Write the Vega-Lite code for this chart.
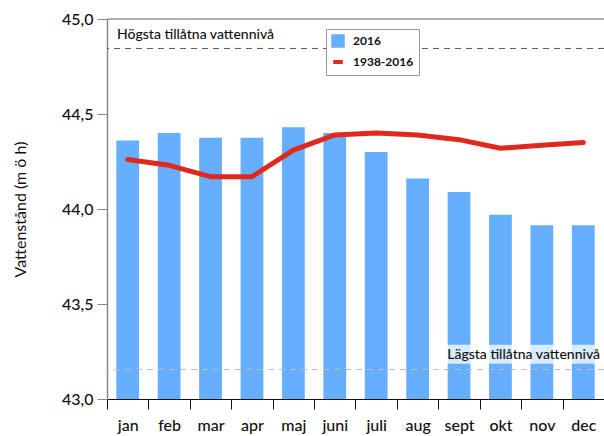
{
  "$schema": "https://vega.github.io/schema/vega-lite/v6.json",
  "width": 497,
  "height": 380,
  "autosize": "none",
  "padding": {"left": 107, "top": 19, "right": 0, "bottom": 37},
  "background": "white",
  "config": {
    "font": "Lato",
    "view": {"stroke": null},
    "axis": {"labelFont": "Lato", "titleFont": "Lato", "grid": false}
  },
  "datasets": {
    "months": [
      {"month": "jan", "v2016": 44.36, "vavg": 44.26},
      {"month": "feb", "v2016": 44.40, "vavg": 44.23},
      {"month": "mar", "v2016": 44.375, "vavg": 44.17},
      {"month": "apr", "v2016": 44.375, "vavg": 44.17},
      {"month": "maj", "v2016": 44.43, "vavg": 44.31},
      {"month": "juni", "v2016": 44.40, "vavg": 44.39},
      {"month": "juli", "v2016": 44.30, "vavg": 44.40},
      {"month": "aug", "v2016": 44.16, "vavg": 44.39},
      {"month": "sept", "v2016": 44.09, "vavg": 44.365},
      {"month": "okt", "v2016": 43.97, "vavg": 44.32},
      {"month": "nov", "v2016": 43.915, "vavg": 44.335},
      {"month": "dec", "v2016": 43.915, "vavg": 44.35}
    ],
    "limits": [
      {"y": 44.845, "kind": "hi", "label": "Högsta tillåtna vattennivå", "month": "jan"},
      {"y": 43.155, "kind": "lo", "label": "Lägsta tillåtna vattennivå", "month": "dec"}
    ],
    "halo": [
      {"m1": "sept", "m2": "dec", "y1": 43.185, "y2": 43.285}
    ],
    "top": [{"y": 45.0}]
  },
  "layer": [
    {
      "data": {"name": "months"},
      "mark": {"type": "bar", "color": "#66afff", "width": {"band": 0.55}},
      "encoding": {
        "x": {
          "field": "month", "type": "nominal", "sort": null,
          "scale": {"paddingInner": 0, "paddingOuter": 0},
          "axis": {
            "title": null, "labelAngle": 0, "tickBand": "extent",
            "tickSize": 10, "tickColor": "#111", "domainColor": "#111",
            "labelFontSize": 16, "labelColor": "#111", "labelPadding": 8,
            "labelFontWeight": 500,
            "labelBound": false, "labelOverlap": false, "labelFlush": false
          }
        },
        "y": {
          "field": "v2016", "type": "quantitative",
          "scale": {"domain": [43, 45], "zero": false, "nice": false},
          "axis": {
            "title": "Vattenstånd (m ö h)", "titleFontSize": 16, "titleFontWeight": "normal",
            "titleColor": "#111", "titlePadding": 33,
            "values": [43, 43.5, 44, 44.5, 45],
            "labelExpr": "replace(format(datum.value, '.1f'), '.', ',')",
            "labelFontSize": 16, "labelColor": "#111", "labelFontWeight": 500,
            "tickSize": 10, "tickColor": "#888", "domainColor": "#888", "domainWidth": 1.5,
            "labelPadding": 4
          }
        },
        "y2": {"datum": 43},
        "color": {
          "datum": "2016", "type": "nominal",
          "scale": {"domain": ["2016", "1938-2016"], "range": ["#66afff", "#e0291c"]},
          "legend": {
            "title": null, "orient": "none", "legendX": 219, "legendY": 10,
            "labelFontSize": 12, "labelFontWeight": "bold", "labelColor": "#111",
            "strokeColor": "#999", "padding": 5, "fillColor": "white",
            "symbolSize": 90, "rowPadding": 0, "labelOffset": 8,
            "encode": {
              "symbols": {
                "update": {
                  "shape": {"signal": "datum.value === '2016' ? 'square' : 'stroke'"},
                  "fill": {"signal": "datum.value === '2016' ? '#66afff' : 'transparent'"},
                  "stroke": {"signal": "datum.value === '2016' ? 'transparent' : '#e0291c'"},
                  "strokeWidth": {"value": 4},
                  "fillOpacity": {"value": 1},
                  "opacity": {"value": 1}
                }
              }
            }
          }
        }
      }
    },
    {
      "data": {"name": "halo"},
      "mark": {"type": "rect", "color": "white", "opacity": 0.75, "xOffset": -2},
      "encoding": {
        "x": {"field": "m1", "type": "nominal", "sort": null, "bandPosition": 0.1},
        "x2": {"field": "m2", "bandPosition": 1},
        "y": {"field": "y1", "type": "quantitative"},
        "y2": {"field": "y2"}
      }
    },
    {
      "data": {"name": "limits"},
      "transform": [{"filter": "datum.kind === 'hi'"}],
      "mark": {"type": "rule", "strokeDash": [6, 5], "strokeWidth": 1, "color": "#555555"},
      "encoding": {"y": {"field": "y", "type": "quantitative"}}
    },
    {
      "data": {"name": "limits"},
      "transform": [{"filter": "datum.kind === 'lo'"}],
      "mark": {"type": "rule", "strokeDash": [6, 5], "strokeWidth": 1, "color": "#bbbbbb"},
      "encoding": {"y": {"field": "y", "type": "quantitative"}}
    },
    {
      "data": {"name": "top"},
      "mark": {"type": "rule", "color": "#999", "strokeWidth": 1.5},
      "encoding": {"y": {"field": "y", "type": "quantitative"}}
    },
    {
      "data": {"name": "months"},
      "mark": {"type": "line", "strokeWidth": 5, "strokeCap": "round", "strokeJoin": "round"},
      "encoding": {
        "x": {"field": "month", "type": "nominal", "sort": null},
        "y": {"field": "vavg", "type": "quantitative"},
        "color": {"datum": "1938-2016", "type": "nominal"}
      }
    },
    {
      "data": {"name": "limits"},
      "transform": [{"filter": "datum.kind === 'hi'"}],
      "mark": {"type": "text", "align": "left", "baseline": "alphabetic", "fontSize": 14, "color": "#111", "dx": 10, "dy": -9, "fontWeight": 500},
      "encoding": {
        "x": {"field": "month", "type": "nominal", "sort": null, "bandPosition": 0},
        "y": {"field": "y", "type": "quantitative"},
        "text": {"field": "label"}
      }
    },
    {
      "data": {"name": "limits"},
      "transform": [{"filter": "datum.kind === 'lo'"}],
      "mark": {"type": "text", "align": "right", "baseline": "alphabetic", "fontSize": 14, "color": "#111", "dx": -4, "dy": -11, "fontWeight": 500},
      "encoding": {
        "x": {"field": "month", "type": "nominal", "sort": null, "bandPosition": 1},
        "y": {"field": "y", "type": "quantitative"},
        "text": {"field": "label"}
      }
    }
  ]
}
